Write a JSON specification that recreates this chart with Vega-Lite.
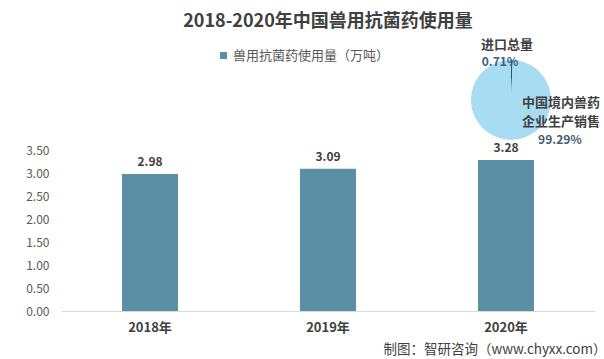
{
  "$schema": "https://vega.github.io/schema/vega-lite/v6.json",
  "autosize": "none",
  "width": 534,
  "height": 253,
  "padding": {"left": 61, "top": 58, "right": 9, "bottom": 48},
  "background": "white",
  "title": {
    "text": "2018-2020年中国兽用抗菌药使用量",
    "font": "Noto Sans CJK SC",
    "fontSize": 18,
    "fontWeight": "bold",
    "color": "#404040",
    "anchor": "middle",
    "offset": 8
  },
  "config": {
    "view": {"stroke": null},
    "font": "Noto Sans CJK SC",
    "text": {"font": "Noto Sans CJK SC"}
  },
  "datasets": {
    "bars": [
      {"year": "2018年", "value": 2.98, "series": "兽用抗菌药使用量（万吨）"},
      {"year": "2019年", "value": 3.09, "series": "兽用抗菌药使用量（万吨）"},
      {"year": "2020年", "value": 3.28, "series": "兽用抗菌药使用量（万吨）"}
    ],
    "pie": [
      {"part": "进口总量", "lines": ["进口总量"], "share": 0.0071},
      {"part": "中国境内兽药企业生产销售", "lines": ["中国境内兽药", "企业生产销售"], "share": 0.9929}
    ]
  },
  "layer": [
    {
      "data": {"name": "bars"},
      "mark": {"type": "bar", "width": 56},
      "encoding": {
        "x": {
          "field": "year",
          "type": "nominal",
          "sort": null,
          "axis": {
            "title": "制图：智研咨询（www.chyxx.com）",
            "titleFont": "Noto Sans CJK SC",
            "titleFontSize": 13.5,
            "titleFontWeight": "normal",
            "titleColor": "#404040",
            "titleAnchor": "end",
            "titleAlign": "right",
            "titleBaseline": "alphabetic",
            "titleX": 545,
            "titleY": 42,
            "labelAngle": 0,
            "labelFontSize": 13,
            "labelFontWeight": "bold",
            "labelColor": "#404040",
            "labelPadding": 10,
            "ticks": false,
            "domainColor": "#d9d9d9",
            "domainWidth": 1
          }
        },
        "y": {
          "field": "value",
          "type": "quantitative",
          "scale": {"domain": [0, 5.5], "nice": false},
          "axis": {
            "title": null,
            "values": [0, 0.5, 1, 1.5, 2, 2.5, 3, 3.5],
            "tickCount": 20,
            "format": ".2f",
            "labelOverlap": false,
            "labelFontSize": 12,
            "labelColor": "#595959",
            "labelPadding": 12,
            "ticks": false,
            "domain": false,
            "grid": false
          }
        },
        "color": {
          "field": "series",
          "type": "nominal",
          "scale": {"range": ["#5b8fa6"]},
          "legend": {
            "title": null,
            "orient": "none",
            "legendX": 156,
            "legendY": -9,
            "symbolType": "square",
            "symbolSize": 50,
            "symbolStrokeWidth": 0,
            "labelFontSize": 13,
            "labelColor": "#595959",
            "labelOffset": 3
          }
        }
      }
    },
    {
      "data": {"name": "bars"},
      "mark": {"type": "text", "fontSize": 12, "fontWeight": "bold", "color": "#404040", "baseline": "middle", "dy": -12},
      "encoding": {
        "x": {"field": "year", "type": "nominal", "sort": null},
        "y": {"field": "value", "type": "quantitative"},
        "text": {"field": "value", "type": "quantitative", "format": ".2f"}
      }
    },
    {
      "data": {"name": "pie"},
      "mark": {"type": "arc", "radius": 40, "xOffset": 5, "stroke": null},
      "encoding": {
        "x": {"datum": "2020年", "type": "nominal"},
        "y": {"datum": 4.59, "type": "quantitative"},
        "theta": {"field": "share", "type": "quantitative", "stack": true},
        "order": {"field": "share", "sort": "ascending"},
        "color": {
          "field": "part",
          "type": "nominal",
          "scale": {"domain": ["进口总量", "中国境内兽药企业生产销售"], "range": ["#1f5c7a", "#a8dcf3"]},
          "legend": null
        }
      }
    },
    {
      "data": {"name": "pie"},
      "transform": [{"filter": "datum.part == '进口总量'"}],
      "layer": [
        {
          "mark": {"type": "text", "fontSize": 13, "fontWeight": "bold", "color": "#404040", "baseline": "middle", "align": "center", "dx": 1, "dy": -55},
          "encoding": {
            "x": {"datum": "2020年", "type": "nominal"},
            "y": {"datum": 4.59, "type": "quantitative"},
            "text": {"field": "lines"}
          }
        },
        {
          "mark": {"type": "text", "fontSize": 12, "fontWeight": "bold", "color": "#3f5f73", "baseline": "middle", "align": "center", "dx": -6, "dy": -38},
          "encoding": {
            "x": {"datum": "2020年", "type": "nominal"},
            "y": {"datum": 4.59, "type": "quantitative"},
            "text": {"field": "share", "type": "quantitative", "format": ".2%"}
          }
        }
      ]
    },
    {
      "data": {"name": "pie"},
      "transform": [{"filter": "datum.part != '进口总量'"}],
      "layer": [
        {
          "mark": {"type": "text", "fontSize": 13, "fontWeight": "bold", "color": "#404040", "baseline": "middle", "align": "center", "dx": 55, "dy": 3, "lineHeight": 19},
          "encoding": {
            "x": {"datum": "2020年", "type": "nominal"},
            "y": {"datum": 4.59, "type": "quantitative"},
            "text": {"field": "lines"}
          }
        },
        {
          "mark": {"type": "text", "fontSize": 12, "fontWeight": "bold", "color": "#3f5f73", "baseline": "middle", "align": "center", "dx": 54, "dy": 40},
          "encoding": {
            "x": {"datum": "2020年", "type": "nominal"},
            "y": {"datum": 4.59, "type": "quantitative"},
            "text": {"field": "share", "type": "quantitative", "format": ".2%"}
          }
        }
      ]
    }
  ],
  "resolve": {"scale": {"color": "independent"}}
}
